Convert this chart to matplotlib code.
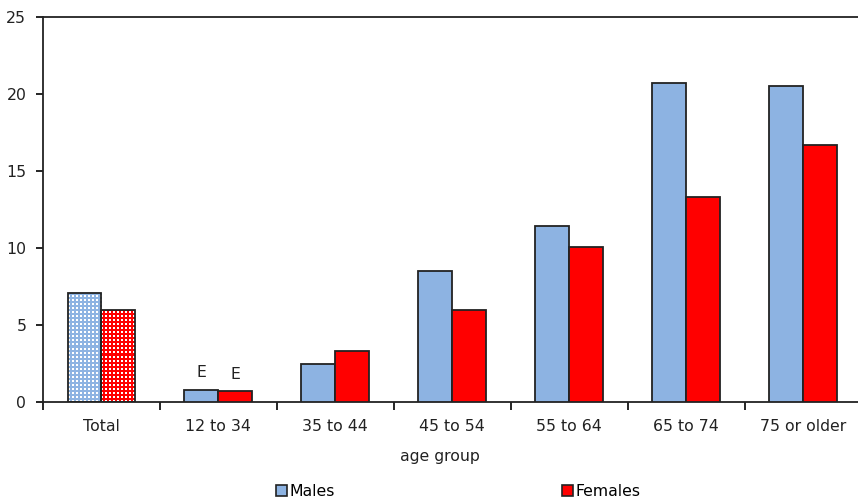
import matplotlib
matplotlib.use("Agg")
import matplotlib.pyplot as plt
from matplotlib.patches import Patch
from matplotlib.colors import to_rgb
import numpy as np

categories = ["Total", "12 to 34", "35 to 44", "45 to 54", "55 to 64", "65 to 74", "75 or older"]
males = [7.1, 0.8, 2.45, 8.5, 11.4, 20.7, 20.5]
females = [6.0, 0.7, 3.3, 6.0, 10.05, 13.3, 16.7]
male_flags = ["", "E", "", "", "", "", ""]
female_flags = ["", "E", "", "", "", "", ""]
yticks = [0, 5, 10, 15, 20, 25]

male_color = "#8DB3E2"
female_color = "#FF0000"
txt = "#222222"
fs = 11.3

plt.rcParams['font.family'] = ['DejaVu Sans']

fig = plt.figure(figsize=(8.58, 4.99), dpi=100)
ax = fig.add_axes([43/858, (499-402)/499, 1 - 43/858, (402-17)/499])

x = np.arange(len(categories))
w = 0.29
ax.set_xlim(-0.5, 6.47)
ax.set_ylim(0, 25)


def dotted_fill(bar, color):
    # checker-dot texture (white dots on colour) clipped to the bar
    x0, y0 = bar.get_x(), bar.get_y()
    bw, bh = bar.get_width(), bar.get_height()
    p0 = ax.transData.transform((x0, y0))
    p1 = ax.transData.transform((x0 + bw, y0 + bh))
    nx = max(int(round(abs(p1[0] - p0[0]))), 1)
    ny = max(int(round(abs(p1[1] - p0[1]))), 1)
    rr, cc = np.mgrid[0:ny, 0:nx]
    white = ((rr % 4) < 2) & ((cc % 4) < 2)
    img = np.empty((ny, nx, 3))
    img[:] = to_rgb(color)
    img[white] = (1, 1, 1)
    im = ax.imshow(img, extent=(x0, x0 + bw, y0, y0 + bh), origin="lower",
                   interpolation="nearest", aspect="auto", zorder=2)
    im.set_clip_path(bar)


for i in range(len(categories)):
    for val, off, col, flag in ((males[i], -w/2, male_color, male_flags[i]),
                                (females[i], w/2, female_color, female_flags[i])):
        if i == 0:
            bars = ax.bar(x[i] + off, val, w, facecolor="none", edgecolor=txt,
                          linewidth=1.3, zorder=3)
            dotted_fill(bars[0], col)
        else:
            ax.bar(x[i] + off, val, w, color=col, edgecolor=txt,
                   linewidth=1.3, zorder=3)
        if flag:
            ax.text(x[i] + off, val + 0.8, flag, ha="center", va="baseline",
                    fontsize=fs, color=txt)

ax.set_xlim(-0.5, 6.47)
ax.set_ylim(0, 25)
ax.set_yticks(yticks)
ax.set_yticklabels([str(t) for t in yticks], fontsize=fs, color=txt)
ax.set_xticks(x)
ax.set_xticklabels(categories, fontsize=fs, color=txt)
ax.tick_params(axis="x", length=0, pad=12)
ax.set_xticks(np.arange(len(categories)) - 0.5, minor=True)
ax.tick_params(axis="x", which="minor", length=6, width=1.2, direction="out")
ax.tick_params(axis="y", length=5, width=1.2, direction="out", pad=7)

for s in ["left", "bottom", "top"]:
    ax.spines[s].set_linewidth(1.3)
    ax.spines[s].set_color(txt)
ax.spines["right"].set_visible(False)

fig.text(440/858, 1 - 456/499, "age group", ha="center", va="center",
         fontsize=fs, color=txt)

fig.legend(handles=[Patch(facecolor=male_color, edgecolor=txt, linewidth=1.2, label="Males")],
           loc="center left", bbox_to_anchor=(276/858, 1 - 491/499),
           frameon=False, fontsize=fs, handlelength=0.7, handleheight=0.7,
           handletextpad=0.15, borderpad=0, borderaxespad=0)
fig.legend(handles=[Patch(facecolor=female_color, edgecolor=txt, linewidth=1.2, label="Females")],
           loc="center left", bbox_to_anchor=(562/858, 1 - 491/499),
           frameon=False, fontsize=fs, handlelength=0.7, handleheight=0.7,
           handletextpad=0.15, borderpad=0, borderaxespad=0)

fig.savefig("out.png", dpi=100)
